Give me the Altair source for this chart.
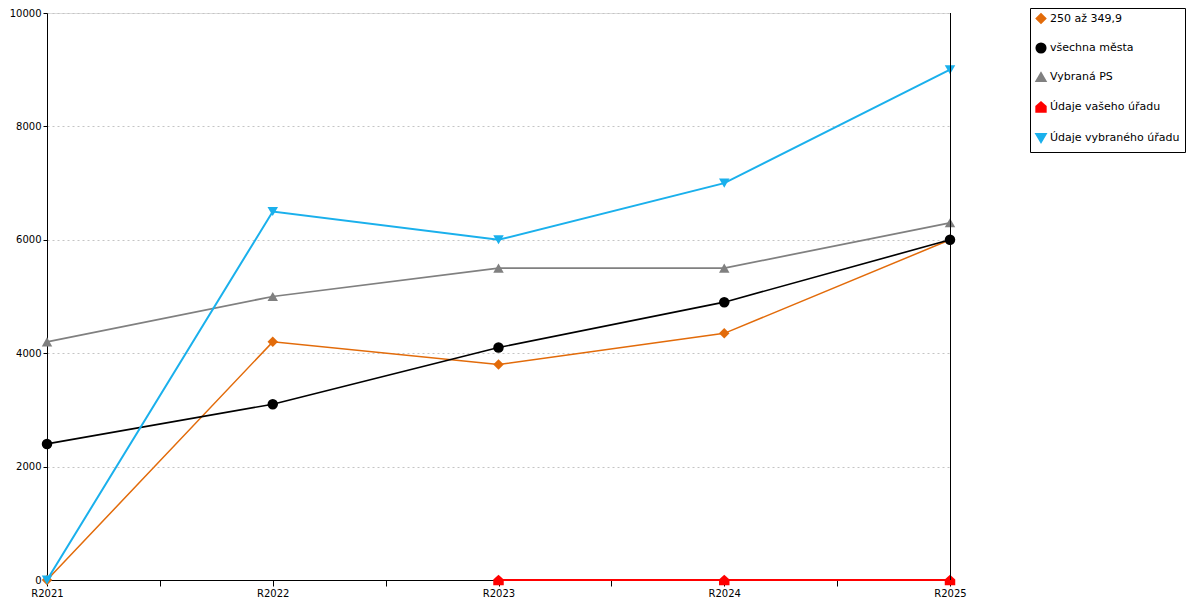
import altair as alt
import pandas as pd

years = ["R2021", "R2022", "R2023", "R2024", "R2025"]
series_names = ["250 až 349,9", "všechna města", "Vybraná PS", "Údaje vašeho úřadu", "Údaje vybraného úřadu"]
s_250 = [0, 4200, 3800, 4350, 6000]
s_all = [2400, 3100, 4100, 4900, 6000]
s_ps = [4200, 5000, 5500, 5500, 6300]
s_vas = [None, None, 0, 0, 0]
s_vyb = [0, 6500, 6000, 7000, 9000]
colors = ["#E26B0A", "#000000", "#808080", "#FF0000", "#1AB0EC"]
house = "M-1,1L-1,-0.1L0,-1L1,-0.1L1,1Z"
shapes = ["diamond", "circle", "triangle-up", house, "triangle-down"]
widths = [1.5, 2, 2, 2, 1.5]

rows = []
for name, vals in zip(series_names, [s_250, s_all, s_ps, s_vas, s_vyb]):
    for i, (yr, v) in enumerate(zip(years, vals)):
        if v is not None:
            rows.append({"series": name, "year": yr, "idx": i, "value": v})
df = pd.DataFrame(rows)

label_arr = "[" + ",".join("'" + y + "'" for y in years) + "]"
x_axis = alt.Axis(
    values=[i * 0.5 for i in range(2 * len(years) - 1)],
    labelExpr=f"datum.value % 1 == 0 ? {label_arr}[datum.value] : ''",
    labelFlush=False, grid=False, title=None, domainColor="black", tickColor="black",
    tickSize=6, labelFont="DejaVu Sans", labelFontSize=10, labelColor="black", labelPadding=2,
)
x = alt.X("idx:Q", scale=alt.Scale(domain=[0, len(years) - 1], nice=False, zero=False), axis=x_axis)
y = alt.Y("value:Q", scale=alt.Scale(domain=[0, 10000], nice=False),
          axis=alt.Axis(values=[0, 2000, 4000, 6000, 8000, 10000], format="d", title=None, grid=True,
                        gridColor="#c4c4c4", gridDash=[2, 3], domainColor="black", tickColor="black",
                        tickSize=4, labelFont="DejaVu Sans", labelFontSize=10, labelColor="black",
                        labelPadding=2))
color = alt.Color("series:N", scale=alt.Scale(domain=series_names, range=colors),
                  legend=alt.Legend(title=None, orient="none", legendX=983, legendY=-5,
                                    strokeColor="black", padding=5, rowPadding=13,
                                    labelFont="DejaVu Sans", labelFontSize=11, labelColor="black",
                                    symbolSize=90, symbolStrokeWidth=0, labelOffset=3,
                                    fillColor="white"))
shape = alt.Shape("series:N", scale=alt.Scale(domain=series_names, range=shapes))
sw = alt.StrokeWidth("series:N", scale=alt.Scale(domain=series_names, range=widths), legend=None)

lines = alt.Chart(df).mark_line().encode(x=x, y=y, color=color, strokeWidth=sw, detail="series:N")
points = alt.Chart(df).mark_point(filled=True, size=110, opacity=1).encode(x=x, y=y, color=color, shape=shape)
right_rule = alt.Chart(df).mark_rule(color="black", strokeWidth=1, xOffset=0.5).encode(
    x=alt.datum(len(years) - 1), y=alt.datum(0), y2=alt.datum(10000))

chart = alt.layer(lines, points, right_rule).properties(
    width=903, height=567,
    autosize=alt.AutoSizeParams(type="none"),
    padding={"left": 39, "top": 5, "right": 242, "bottom": 18},
).configure_view(stroke=None).configure(background="white")

chart.save("out.html", embed_options={"renderer": "svg", "actions": False})
